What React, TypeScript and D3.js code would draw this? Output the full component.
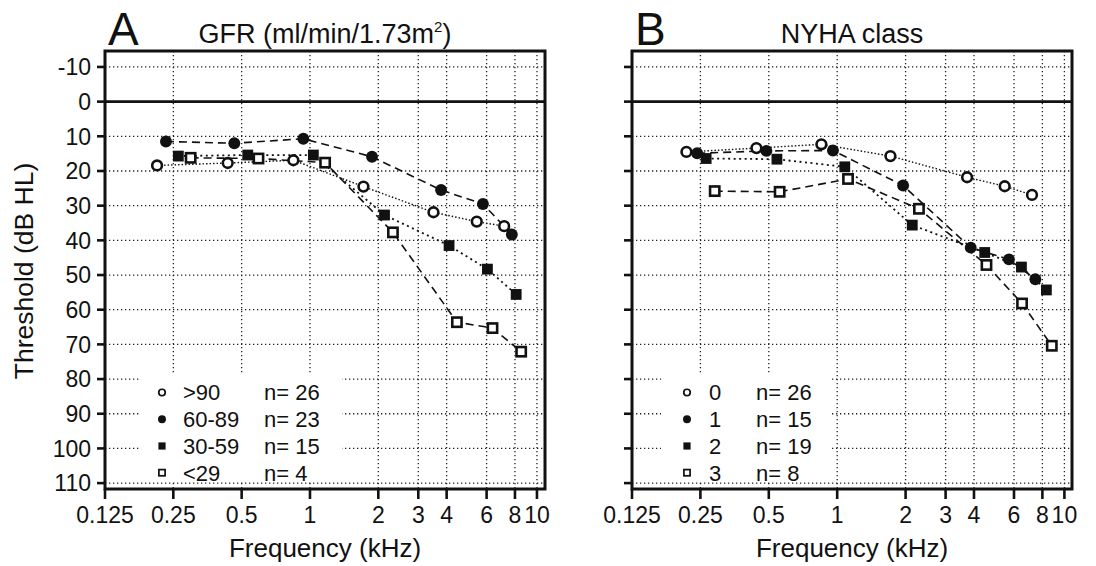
import React from "react";
import * as d3 from "d3";

// ---------- data ----------
const xTickValues = [0.125, 0.25, 0.5, 1, 2, 3, 4, 6, 8, 10];
const xTickLabels = ["0.125", "0.25", "0.5", "1", "2", "3", "4", "6", "8", "10"];
const yTickValues = [-10, 0, 10, 20, 30, 40, 50, 60, 70, 80, 90, 100, 110];

// Panel A: GFR groups
const gfrNames = [">90", "60-89", "30-59", "<29"];
const gfrCounts = ["n= 26", "n= 23", "n= 15", "n= 4"];
const gfrFreq_gt90 = [0.212, 0.434, 0.845, 1.72, 3.5, 5.43, 7.17];
const gfrThr_gt90 = [18.4, 17.7, 16.9, 24.5, 31.9, 34.6, 35.9];
const gfrFreq_6089 = [0.232, 0.464, 0.935, 1.876, 3.78, 5.78, 7.75];
const gfrThr_6089 = [11.5, 12.0, 10.7, 15.9, 25.5, 29.5, 38.3];
const gfrFreq_3059 = [0.263, 0.532, 1.035, 2.13, 4.1, 6.05, 8.1];
const gfrThr_3059 = [15.7, 15.4, 15.4, 32.7, 41.5, 48.3, 55.6];
const gfrFreq_lt29 = [0.298, 0.593, 1.166, 2.32, 4.44, 6.37, 8.52];
const gfrThr_lt29 = [16.2, 16.4, 17.6, 37.7, 63.6, 65.3, 72.1];

// Panel B: NYHA classes
const nyhaNames = ["0", "1", "2", "3"];
const nyhaCounts = ["n= 26", "n= 15", "n= 19", "n= 8"];
const nyhaFreq_0 = [0.217, 0.441, 0.852, 1.715, 3.73, 5.46, 7.2];
const nyhaThr_0 = [14.5, 13.4, 12.3, 15.7, 21.8, 24.4, 26.9];
const nyhaFreq_1 = [0.242, 0.488, 0.958, 1.95, 3.87, 5.7, 7.45];
const nyhaThr_1 = [14.9, 14.2, 14.1, 24.2, 42.1, 45.5, 51.2];
const nyhaFreq_2 = [0.265, 0.543, 1.08, 2.14, 4.46, 6.47, 8.33];
const nyhaThr_2 = [16.4, 16.6, 18.8, 35.6, 43.5, 47.7, 54.3];
const nyhaFreq_3 = [0.289, 0.558, 1.116, 2.29, 4.54, 6.51, 8.8];
const nyhaThr_3 = [25.8, 26.0, 22.3, 30.9, 47.1, 58.2, 70.4];

type MarkerKind = "openCircle" | "filledCircle" | "filledSquare" | "openSquare";
const markerKinds: MarkerKind[] = ["openCircle", "filledCircle", "filledSquare", "openSquare"];
const lineStyles = ["dotFine", "dash", "dot", "dash"];

const FONT = "'Liberation Sans', Arial, Helvetica, sans-serif";

function Marker({ kind, x, y, s }: { kind: MarkerKind; x: number; y: number; s: number }) {
  if (kind === "filledCircle") return <circle cx={x} cy={y} r={s * 0.55} fill="#111" />;
  if (kind === "openCircle")
    return <circle cx={x} cy={y} r={s * 0.45} fill="#fff" stroke="#111" strokeWidth={s * 0.24} />;
  if (kind === "filledSquare")
    return <rect x={x - s * 0.5} y={y - s * 0.5} width={s} height={s} fill="#111" />;
  return (
    <rect
      x={x - s * 0.43}
      y={y - s * 0.43}
      width={s * 0.86}
      height={s * 0.86}
      fill="#fff"
      stroke="#111"
      strokeWidth={s * 0.24}
    />
  );
}

function dashFor(style: string) {
  if (style === "dash") return { dash: "8 5", w: 1.6 };
  if (style === "dot") return { dash: "2 3.5", w: 1.8 };
  return { dash: "1.5 2", w: 1.4 };
}

interface PanelProps {
  left: number;
  right: number;
  xMax: number;
  letter: string;
  title: React.ReactNode;
  showYLabels: boolean;
  freqs: number[][];
  thrs: number[][];
  names: string[];
  counts: string[];
  legend: { boxL: number; boxR: number; markerX: number; nameX: number; countX: number };
}

const TOP = 51;
const BOTTOM = 489;

function Panel(p: PanelProps) {
  const x = d3.scaleLog().domain([0.125, p.xMax]).range([p.left, p.right]);
  const y = d3.scaleLinear().domain([-14.6, 111.7]).range([TOP, BOTTOM]);
  const line = d3
    .line<[number, number]>()
    .x((d) => x(d[0]))
    .y((d) => y(d[1]));
  const cx = (p.left + p.right) / 2;
  const legendRows = [392.5, 419.2, 446, 472.7];
  return (
    <g>
      {/* grid */}
      {yTickValues
        .filter((v) => v !== 0)
        .map((v) => (
          <line
            key={"gy" + v}
            x1={p.left}
            x2={p.right}
            y1={y(v)}
            y2={y(v)}
            stroke="#222"
            strokeWidth={1.3}
            strokeDasharray="1.3 2.7"
          />
        ))}
      {xTickValues.slice(1).map((v) => (
        <line
          key={"gx" + v}
          x1={x(v)}
          x2={x(v)}
          y1={TOP}
          y2={BOTTOM}
          stroke="#222"
          strokeWidth={1.3}
          strokeDasharray="1.3 2.7"
        />
      ))}
      {/* zero line */}
      <line x1={p.left} x2={p.right} y1={y(0)} y2={y(0)} stroke="#111" strokeWidth={2.6} />
      {/* legend background */}
      <rect x={p.legend.boxL} y={374} width={p.legend.boxR - p.legend.boxL} height={107} fill="#fff" />
      {/* series lines */}
      {p.freqs.map((fs, i) => {
        const st = dashFor(lineStyles[i]);
        const pts = fs.map((f, j) => [f, p.thrs[i][j]] as [number, number]);
        return (
          <path
            key={"l" + i}
            d={line(pts) || ""}
            fill="none"
            stroke="#111"
            strokeWidth={st.w}
            strokeDasharray={st.dash}
          />
        );
      })}
      {/* markers */}
      {p.freqs.map((fs, i) =>
        fs.map((f, j) => (
          <Marker key={"m" + i + "-" + j} kind={markerKinds[i]} x={x(f)} y={y(p.thrs[i][j])} s={10.8} />
        ))
      )}
      {/* frame */}
      <rect
        x={p.left}
        y={TOP}
        width={p.right - p.left}
        height={BOTTOM - TOP}
        fill="none"
        stroke="#111"
        strokeWidth={3}
      />
      {/* y ticks */}
      {yTickValues.map((v) => (
        <g key={"yt" + v}>
          <line x1={p.left - 8} x2={p.left} y1={y(v)} y2={y(v)} stroke="#111" strokeWidth={2.6} />
          {p.showYLabels && (
            <text
              x={p.left - 14}
              y={y(v)}
              dy="0.36em"
              textAnchor="end"
              fontSize={23}
              fontFamily={FONT}
              fill="#111"
            >
              {v}
            </text>
          )}
        </g>
      ))}
      {/* x ticks */}
      {xTickValues.map((v, i) => (
        <g key={"xt" + v}>
          <line x1={x(v)} x2={x(v)} y1={BOTTOM} y2={BOTTOM + 10} stroke="#111" strokeWidth={2.6} />
          <text x={x(v)} y={523} textAnchor="middle" fontSize={23} fontFamily={FONT} fill="#111">
            {xTickLabels[i]}
          </text>
        </g>
      ))}
      {/* legend */}
      {p.names.map((n, i) => (
        <g key={"lg" + i}>
          <Marker kind={markerKinds[i]} x={p.legend.markerX} y={legendRows[i]} s={7.2} />
          <text x={p.legend.nameX} y={legendRows[i]} dy="0.36em" fontSize={22} fontFamily={FONT} fill="#111">
            {n}
          </text>
          <text x={p.legend.countX} y={legendRows[i]} dy="0.36em" fontSize={22} fontFamily={FONT} fill="#111">
            {p.counts[i]}
          </text>
        </g>
      ))}
      {/* labels */}
      <text x={p.left + 3} y={45} fontSize={46} fontFamily={FONT} fill="#111">
        {p.letter}
      </text>
      <text x={cx} y={43} textAnchor="middle" fontSize={27} fontFamily={FONT} fill="#111">
        {p.title}
      </text>
      <text x={cx} y={557} textAnchor="middle" fontSize={26} fontFamily={FONT} fill="#111">
        Frequency (kHz)
      </text>
    </g>
  );
}

export default function App() {
  return (
    <svg
      width={1096}
      height={566}
      viewBox="0 0 1096 566"
      style={{ position: "absolute", left: 0, top: 0, background: "#fff" }}
    >
      <rect x={0} y={0} width={1096} height={566} fill="#fff" />
      <Panel
        left={105}
        right={545}
        xMax={10.85}
        letter="A"
        title={
          <>
            GFR (ml/min/1.73m
            <tspan fontSize={15} dy={-11}>
              2
            </tspan>
            <tspan dy={11}>)</tspan>
          </>
        }
        showYLabels={true}
        freqs={[gfrFreq_gt90, gfrFreq_6089, gfrFreq_3059, gfrFreq_lt29]}
        thrs={[gfrThr_gt90, gfrThr_6089, gfrThr_3059, gfrThr_lt29]}
        names={gfrNames}
        counts={gfrCounts}
        legend={{ boxL: 139, boxR: 342, markerX: 162, nameX: 183, countX: 264 }}
      />
      <Panel
        left={632}
        right={1072}
        xMax={10.8}
        letter="B"
        title="NYHA class"
        showYLabels={false}
        freqs={[nyhaFreq_0, nyhaFreq_1, nyhaFreq_2, nyhaFreq_3]}
        thrs={[nyhaThr_0, nyhaThr_1, nyhaThr_2, nyhaThr_3]}
        names={nyhaNames}
        counts={nyhaCounts}
        legend={{ boxL: 661, boxR: 831, markerX: 687, nameX: 709, countX: 756 }}
      />
      <text
        transform="translate(33,271) rotate(-90)"
        textAnchor="middle"
        fontSize={26.5}
        fontFamily={FONT}
        fill="#111"
      >
        Threshold (dB HL)
      </text>
    </svg>
  );
}
